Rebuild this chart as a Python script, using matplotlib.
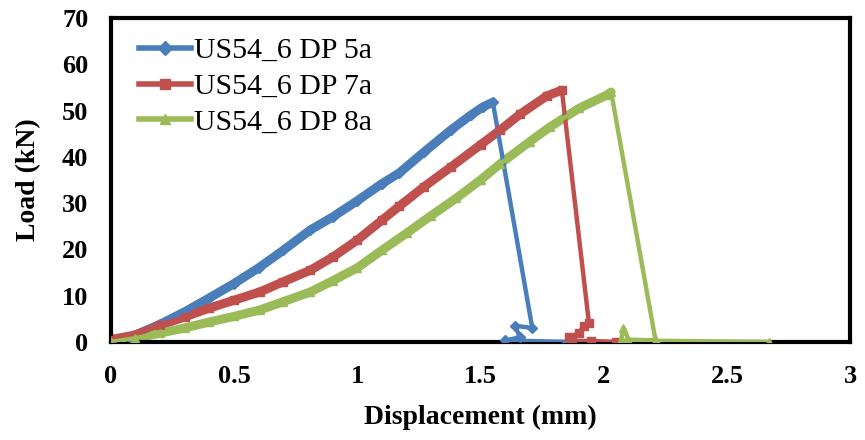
import matplotlib

matplotlib.use("Agg")
import matplotlib.pyplot as plt

# --------------------------------------------------------------------------- #
# Data
# --------------------------------------------------------------------------- #
labels = ["US54_6 DP 5a", "US54_6 DP 7a", "US54_6 DP 8a"]
colors = ["#4A7EBB", "#C0504D", "#9BBB59"]
markers = ["D", "s", "^"]

disp_5a = [0, 0.08, 0.2, 0.3, 0.4, 0.5, 0.6, 0.7, 0.81, 0.9, 1.0, 1.1, 1.17,
           1.27, 1.38, 1.46, 1.51, 1.55, 1.71, 1.64, 1.66, 1.60, 1.85]
load_5a = [0, 1.0, 3.8, 6.5, 9.5, 12.6, 16.0, 19.8, 24.2, 27.0, 30.5, 34.2, 36.5,
           41.0, 45.8, 49.0, 50.8, 51.8, 3.0, 3.5, 1.0, 0.3, 0.0]
peak_5a = 17

disp_7a = [0, 0.1, 0.2, 0.3, 0.4, 0.5, 0.605, 0.7, 0.81, 0.9, 1.0, 1.1, 1.17,
           1.27, 1.38, 1.5, 1.58, 1.66, 1.77, 1.83, 1.94, 1.92, 1.90, 1.86, 1.87,
           1.95, 2.05]
load_7a = [0.5, 1.5, 3.6, 5.4, 7.3, 9.0, 10.8, 13.0, 15.5, 18.3, 22.0, 26.3, 29.3,
           33.5, 37.8, 42.6, 45.8, 49.2, 53.2, 54.4, 4.0, 3.5, 2.0, 1.0, 0.2,
           0.2, 0.0]
peak_7a = 19

disp_8a = [0, 0.1, 0.2, 0.3, 0.4, 0.5, 0.605, 0.7, 0.81, 0.9, 1.0, 1.1, 1.2, 1.3,
           1.4, 1.5, 1.58, 1.7, 1.78, 1.9, 2.01, 2.03, 2.21, 2.10, 2.08, 2.07, 2.67]
load_8a = [0, 0.8, 1.9, 3.0, 4.3, 5.5, 6.9, 8.7, 10.8, 13.2, 16.0, 19.8, 23.5, 27.3,
           31.0, 35.0, 38.5, 43.3, 46.4, 50.5, 53.3, 54.0, 0.3, 0.5, 3.0, 0.3, 0.0]
peak_8a = 21

series = [(disp_5a, load_5a, peak_5a), (disp_7a, load_7a, peak_7a),
          (disp_8a, load_8a, peak_8a)]

x_ticks = [0, 0.5, 1, 1.5, 2, 2.5, 3]
x_ticklabels = ["0", "0.5", "1", "1.5", "2", "2.5", "3"]
y_ticks = [0, 10, 20, 30, 40, 50, 60, 70]

# --------------------------------------------------------------------------- #
# Plot
# --------------------------------------------------------------------------- #
plt.rcParams["font.family"] = ["Liberation Serif", "DejaVu Serif"]

fig = plt.figure(figsize=(8.65, 4.4), dpi=100)
ax = fig.add_axes([0.128, 0.223, 0.855, 0.736])

for (x, y, pk), lab, col, mk in zip(series, labels, colors, markers):
    # loading branch looks thicker (dense markers in the original)
    ax.plot(x[:pk + 1], y[:pk + 1], color=col, lw=6.5, solid_capstyle="round",
            solid_joinstyle="round", zorder=2)
    ax.plot(x, y, color=col, lw=3.2, marker=mk, markersize=5.5,
            markeredgecolor=col, label=lab, zorder=3)

ax.set_xlim(0, 3)
ax.set_ylim(0, 70)
ax.set_xticks(x_ticks)
ax.set_xticklabels(x_ticklabels)
ax.set_yticks(y_ticks)
ax.tick_params(axis="both", length=0, labelsize=19)
ax.tick_params(axis="x", pad=17)
ax.tick_params(axis="y", pad=16)
for t in ax.get_xticklabels() + ax.get_yticklabels():
    t.set_fontweight("bold")

for sp in ax.spines.values():
    sp.set_linewidth(3)
    sp.set_color("black")

ax.set_xlabel("Displacement (mm)", fontsize=20, fontweight="bold", labelpad=12)
ax.set_ylabel("Load (kN)", fontsize=20, fontweight="bold", labelpad=15)

leg = ax.legend(loc="upper left", bbox_to_anchor=(0.01, 1.005), fontsize=21.5,
                frameon=False, numpoints=1, handlelength=1.75, handletextpad=0.08,
                labelspacing=0.3, borderaxespad=0.3)
for h in leg.legend_handles:
    h.set_linewidth(4)
    h.set_markersize(7)

fig.savefig("out.png", dpi=100)
